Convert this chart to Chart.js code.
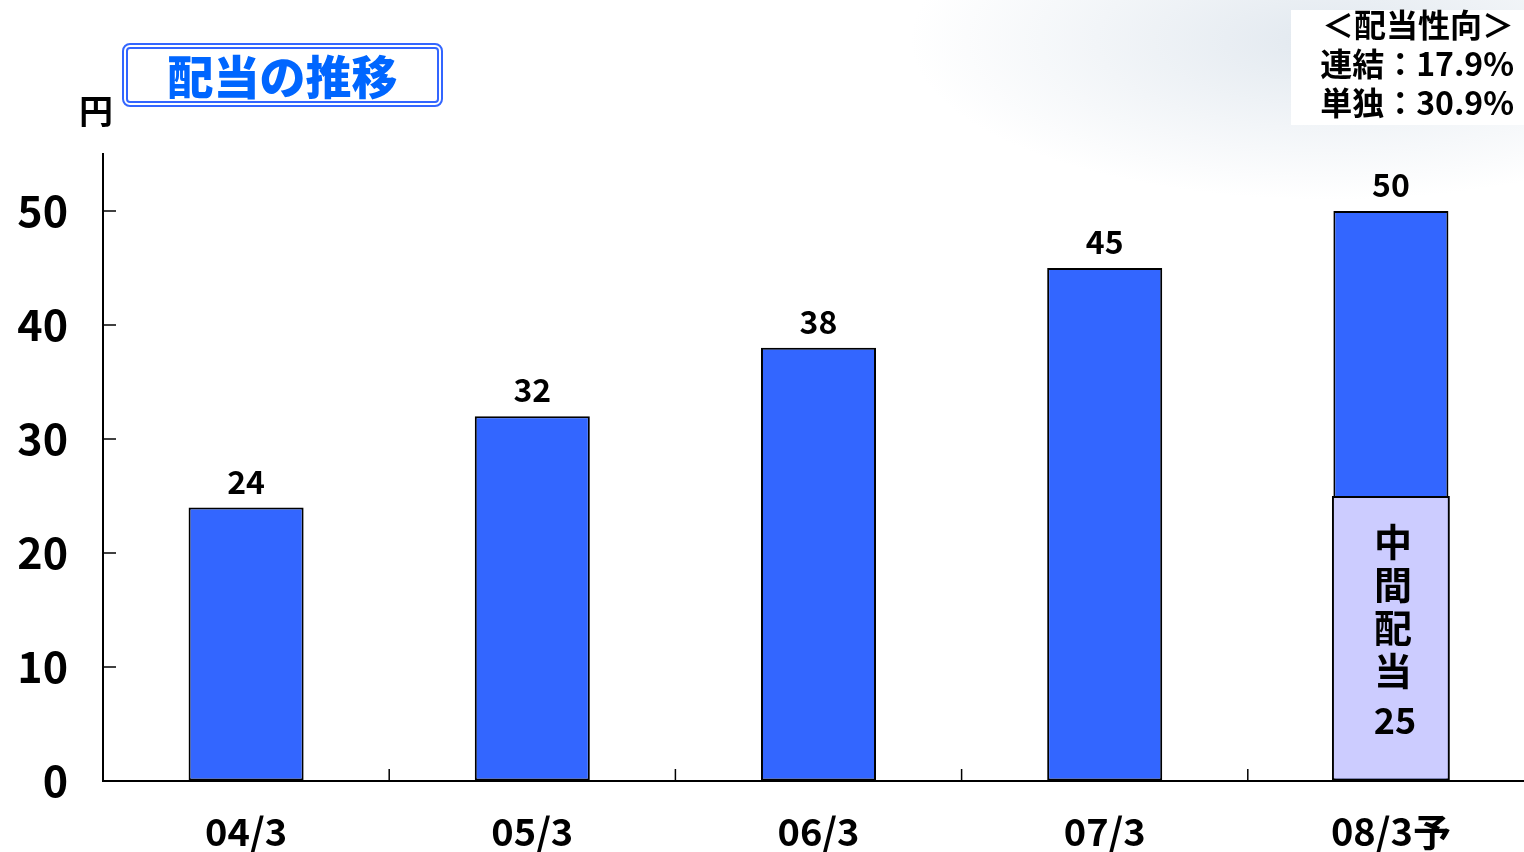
<!DOCTYPE html>
<html>
<head>
<meta charset="UTF-8">
<title>配当の推移</title>
<style>
  html, body { margin: 0; padding: 0; overflow: hidden; background: #fff; }
  #wrap { position: relative; width: 1524px; height: 852px; overflow: hidden;
    background: radial-gradient(ellipse 420px 160px at 1330px 40px, rgba(190,205,220,0.45), rgba(255,255,255,0) 100%); }
  #chart { position: absolute; left: 0; top: 0; }
  .jp { font-family: "Noto Sans CJK JP", "Noto Sans", sans-serif; font-weight: bold; }
  #title { position: absolute; left: 122px; top: 43px; border: 6px double #3366ff; border-radius: 8px;
    box-sizing: border-box; width: 321px; height: 64px; color: #0066ff; font-size: 46px; line-height: 50px;
    text-align: center; font-weight: 900; }
  #unit { position: absolute; left: 79px; top: 90px; font-size: 34px; line-height: 40px; color: #000; }
  #ratio { position: absolute; left: 1291px; top: 10px; width: 233px; height: 115px; background: #fff;
    color: #000; font-size: 32px; line-height: 39px; text-align: right; padding-right: 10px; padding-top: 0;
    box-sizing: border-box; }
  #ratio div { position: relative; top: -6px; }
</style>
</head>
<body>
<div id="wrap">
  <canvas id="chart" width="1540" height="852" style="width:1540px;height:852px"></canvas>
  <div id="title" class="jp">配当の推移</div>
  <div id="unit" class="jp">円</div>
  <div id="ratio" class="jp"><div>＜配当性向＞<br>連結：17.9%<br>単独：30.9%</div></div>
</div>
<script src="https://cdn.jsdelivr.net/npm/chart.js@4/dist/chart.umd.min.js"></script>
<script>
var categories = ['04/3', '05/3', '06/3', '07/3', '08/3予']
var dividends = [24, 32, 38, 45, 50]
var interim = [null, null, null, null, 25]
var interimLabel = ['中', '間', '配', '当']

var FONT = '"Noto Sans CJK JP", "Noto Sans", sans-serif'

// inward tick marks, value labels and the interim text
var decorations = {
    id: 'decorations',
    afterDatasetsDraw: function(chart) {
        var ctx = chart.ctx
        var area = chart.chartArea
        var x = chart.scales.x, y = chart.scales.y
        ctx.save()
        ctx.strokeStyle = '#000'
        ctx.lineWidth = 1.5
        y.ticks.forEach(function(t) {
            var py = y.getPixelForValue(t.value)
            ctx.beginPath(); ctx.moveTo(area.left, py); ctx.lineTo(area.left + 13, py); ctx.stroke()
        })
        for (var i = 1; i < categories.length; i++) {
            var px = (x.getPixelForValue(i - 1) + x.getPixelForValue(i)) / 2
            ctx.beginPath(); ctx.moveTo(px, area.bottom); ctx.lineTo(px, area.bottom - 12); ctx.stroke()
        }

        ctx.fillStyle = '#000'
        ctx.textAlign = 'center'
        ctx.textBaseline = 'bottom'
        ctx.font = 'bold 32px ' + FONT
        chart.getDatasetMeta(1).data.forEach(function(bar, i) {
            ctx.fillText(String(dividends[i]), bar.x, bar.y - 10)
        })

        ctx.textBaseline = 'middle'
        ctx.font = 'bold 38px ' + FONT
        chart.getDatasetMeta(0).data.forEach(function(bar, i) {
            if (interim[i] == null) return
            var top = bar.y
            interimLabel.forEach(function(ch, k) {
                ctx.fillText(ch, bar.x + 2, top + 46 + k * 43)
            })
            ctx.font = 'bold 36px ' + FONT
            ctx.fillText(String(interim[i]), bar.x + 4, top + 224)
        })
        ctx.restore()
    }
}

var chart = new Chart(document.getElementById('chart').getContext('2d'), {
    type: 'bar',
    data: {
        labels: categories,
        datasets: [
            {
                label: '中間配当',
                data: interim,
                backgroundColor: '#ccccff',
                borderColor: '#000',
                borderWidth: 2,
                borderSkipped: false,
                grouped: false,
                categoryPercentage: 1,
                barPercentage: 0.412,
                order: 0
            },
            {
                label: '配当',
                data: dividends,
                backgroundColor: '#3366ff',
                borderColor: '#000',
                borderWidth: 2,
                borderSkipped: false,
                grouped: false,
                categoryPercentage: 1,
                barPercentage: 0.402,
                order: 1
            }
        ]
    },
    options: {
        responsive: false,
        animation: false,
        layout: { padding: { top: 154, right: 6, left: 0, bottom: 0 } },
        plugins: { legend: { display: false }, tooltip: { enabled: false } },
        scales: {
            x: {
                offset: true,
                afterFit: function(s) { s.height = 71 },
                grid: { drawOnChartArea: false, drawTicks: false, color: 'rgba(0,0,0,0)' },
                border: { color: '#000', width: 2 },
                ticks: { color: '#000', padding: 28, font: { family: FONT, size: 38, weight: 'bold' } }
            },
            y: {
                min: 0,
                max: 55,
                afterFit: function(s) { s.width = 103 },
                afterBuildTicks: function(s) {
                    s.ticks = [0, 10, 20, 30, 40, 50].map(function(v) { return { value: v } })
                },
                grid: { drawOnChartArea: false, drawTicks: false, color: 'rgba(0,0,0,0)' },
                border: { color: '#000', width: 2 },
                ticks: { color: '#000', padding: 35, font: { family: FONT, size: 43, weight: 'bold' } }
            }
        }
    },
    plugins: [decorations]
})
</script>
</body>
</html>
